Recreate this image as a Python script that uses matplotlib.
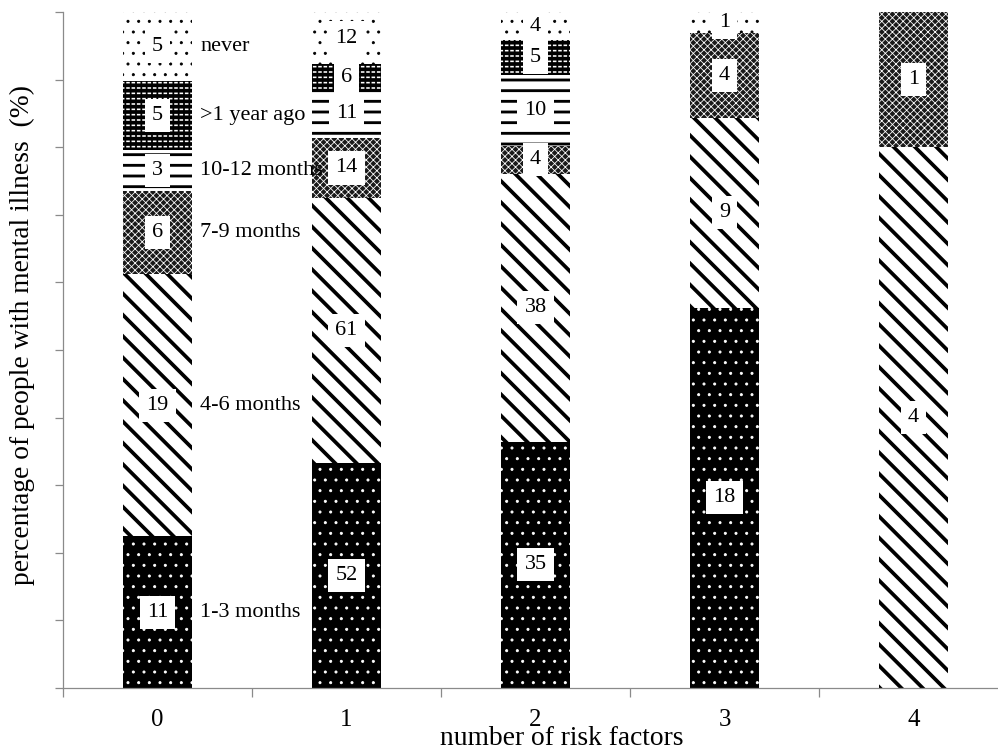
import matplotlib
matplotlib.use('Agg')
import matplotlib.pyplot as plt
import numpy as np

plt.rcParams['font.family'] = ['Liberation Serif', 'DejaVu Serif']

# ---- data ----
categories = ['0', '1', '2', '3', '4']
periods = ['1-3 months', '4-6 months', '7-9 months', '10-12 months', '>1 year ago', 'never']
months_1_3 = [11, 52, 35, 18, 0]
months_4_6 = [19, 61, 38, 9, 4]
months_7_9 = [6, 14, 4, 4, 1]
months_10_12 = [3, 11, 10, 0, 0]
over_1_year = [5, 6, 5, 0, 0]
never = [5, 12, 4, 1, 0]
series = [months_1_3, months_4_6, months_7_9, months_10_12, over_1_year, never]

# ---- styles: (face, hatch colour, hatch, hatch linewidth) ----
styles = [
    ('black', 'white', '.', 1.0),
    ('white', 'black', '\\', 4.2),
    ('#1a1a1a', 'white', 'xxx', 0.9),
    ('white', 'black', '-', 3.2),
    ('black', 'white', '--', 1.8),
    ('white', 'black', '.', 1.0),
]

DPI = 64
fig = plt.figure(figsize=(998 / DPI, 752 / DPI), dpi=DPI)
ax = fig.add_axes([63 / 998, 64 / 752, 945 / 998, 676 / 752])

counts = np.array(series, dtype=float)
totals = counts.sum(axis=0)
pct = counts / totals * 100
x = np.arange(len(categories))
width = 0.36

def set_hlw(patches, lw):
    for p in patches:
        if hasattr(p, 'set_hatch_linewidth'):
            p.set_hatch_linewidth(lw)

bottom = np.zeros(len(categories))
for i, (name, vals) in enumerate(zip(periods, pct)):
    face, hc, hatch, hlw = styles[i]
    bars = ax.bar(x, vals, width=width, bottom=bottom, color=face,
                  edgecolor=hc, hatch=hatch, linewidth=0, zorder=2)
    set_hlw(bars, hlw)
    if name == '>1 year ago':
        over = ax.bar(x, vals, width=width, bottom=bottom, facecolor='none',
                      edgecolor='black', hatch='||', linewidth=0, zorder=3)
        set_hlw(over, 2.0)
    for j in range(len(categories)):
        if counts[i, j] > 0:
            ax.text(x[j], bottom[j] + vals[j] / 2, str(int(counts[i, j])),
                    ha='center', va='center', fontsize=25, zorder=6,
                    bbox=dict(boxstyle='square,pad=0.32', fc='white', ec='none'))
    # category annotation next to first bar
    ax.text(x[0] + 0.225, bottom[0] + vals[0] / 2, name, ha='left', va='center',
            fontsize=25, zorder=6)
    bottom = bottom + vals

ax.set_xlim(-0.5, 4.5)
ax.set_ylim(0, 100)

gray = '#8a8a8a'
for s in ['top', 'right']:
    ax.spines[s].set_visible(False)
for s in ['left', 'bottom']:
    ax.spines[s].set_color(gray)
    ax.spines[s].set_linewidth(1.4)

ax.set_yticks(np.arange(0, 101, 10))
ax.set_yticklabels([])
ax.tick_params(axis='y', direction='out', length=9, width=1.4, color=gray)

ax.set_xticks(np.arange(-0.5, 5.0, 1.0))
ax.set_xticklabels([])
ax.tick_params(axis='x', which='major', direction='out', length=10, width=1.4, color=gray)
ax.set_xticks(x, minor=True)
ax.set_xticklabels(categories, minor=True, fontsize=28)
ax.tick_params(axis='x', which='minor', length=0, pad=24)

fig.text(22 / 998, 1 - 335 / 752, 'percentage of people with mental illness  (%)',
         rotation=90, ha='center', va='center', fontsize=31)
fig.text(562 / 998, 7 / 752, 'number of risk factors', ha='center', va='baseline',
         fontsize=31)

fig.savefig('out.png', dpi=DPI)
